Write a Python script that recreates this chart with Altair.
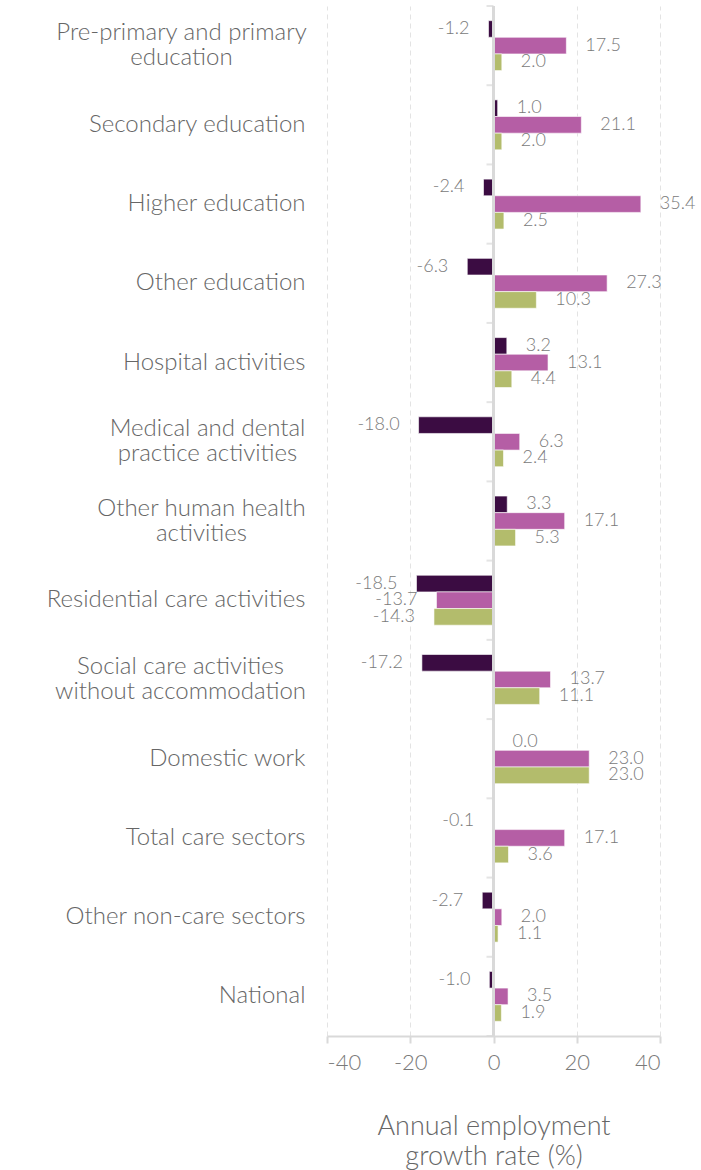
import altair as alt
import pandas as pd

# Sector names (each entry is a list of label lines)
sectors = [
    ["Pre-primary and primary", "education"],
    ["Secondary education"],
    ["Higher education"],
    ["Other education"],
    ["Hospital activities"],
    ["Medical and dental", "practice activities"],
    ["Other human health", "activities"],
    ["Residential care activities"],
    ["Social care activities", "without accommodation"],
    ["Domestic work"],
    ["Total care sectors"],
    ["Other non-care sectors"],
    ["National"],
]

series_names = ["Series 1", "Series 2", "Series 3"]
series_colors = ["#3b0c42", "#b55ea5", "#b3bc6c"]

# Annual employment growth rate (%) per sector, one list per series
series_1 = [-1.2, 1.0, -2.4, -6.3, 3.2, -18.0, 3.3, -18.5, -17.2, 0.0, -0.1, -2.7, -1.0]
series_2 = [17.5, 21.1, 35.4, 27.3, 13.1, 6.3, 17.1, -13.7, 13.7, 23.0, 17.1, 2.0, 3.5]
series_3 = [2.0, 2.0, 2.5, 10.3, 4.4, 2.4, 5.3, -14.3, 11.1, 23.0, 3.6, 1.1, 1.9]

x_ticks = [-40, -20, 0, 20, 40]

sector_keys = ["|".join(s) for s in sectors]
rows = []
for name, vals in zip(series_names, [series_1, series_2, series_3]):
    for key, v in zip(sector_keys, vals):
        rows.append({"sector": key, "series": name, "value": v, "label": f"{v:.1f}"})
df = pd.DataFrame(rows)

# band boundaries for the small ticks on the zero line
bounds = pd.DataFrame({"b": list(range(len(sectors) + 1))})

FONT = "Lato"
GRID = "#d9d9d9"
LINE_H = 25
LABEL_GAP = 22

# two-line labels are drawn as a centred block: half of the block's width (px)
block_half_width = {
    "Pre-primary and primary|education": 124,
    "Medical and dental|practice activities": 98,
    "Other human health|activities": 104,
    "Social care activities|without accommodation": 125,
}
pad_expr = str(LABEL_GAP)
for key, half in block_half_width.items():
    pad_expr = f"datum.value === '{key}' ? {LABEL_GAP + half} : ({pad_expr})"
is_wrapped = "indexof(datum.value, '|') >= 0"

y_enc = alt.Y(
    "sector:N",
    sort=sector_keys,
    scale=alt.Scale(paddingInner=0.37, paddingOuter=0.185),
    axis=alt.Axis(
        title=None,
        domain=False,
        ticks=False,
        labelExpr="split(datum.value, '|')",
        labelAlign={"expr": f"{is_wrapped} ? 'center' : 'right'"},
        labelPadding={"expr": pad_expr},
        # centre two-line labels vertically on their band
        labelOffset={"expr": f"{is_wrapped} ? {-LINE_H / 2} : 0"},
        labelFont=FONT,
        labelFontSize=24,
        labelFontWeight=300,
        labelColor="#666666",
        labelLineHeight=LINE_H,
        labelLimit=400,
    ),
)
y_off = alt.YOffset("series:N", sort=series_names, scale=alt.Scale(paddingInner=0))
x_enc = alt.X(
    "value:Q",
    scale=alt.Scale(domain=[-40, 40], nice=False, zero=False),
    axis=alt.Axis(
        values=x_ticks,
        labelExpr="'' + datum.value",
        title=["Annual employment", "growth rate (%)"],
        titleFont=FONT,
        titleFontSize=27,
        titleFontWeight=300,
        titleColor="#666666",
        titleLineHeight=30,
        titlePadding=40,
        labelFont=FONT,
        labelFontSize=22,
        labelFontWeight=300,
        labelColor="#7a7a7a",
        labelPadding=9,
        domainColor=GRID,
        domainWidth=2,
        tickColor=GRID,
        tickWidth=2,
        tickSize=7,
        grid=True,
        gridColor="#e3e3e3",
        gridDash=[5, 4],
        gridWidth=1,
    ),
)
color_enc = alt.Color(
    "series:N", sort=series_names,
    scale=alt.Scale(domain=series_names, range=series_colors), legend=None,
)

base = alt.Chart(df).encode(y=y_enc, yOffset=y_off)

bars = base.mark_bar(stroke="white", strokeWidth=0.6).encode(x=x_enc, color=color_enc)

label_style = dict(font=FONT, fontSize=18, fontWeight=300, color="#7a7a7a", baseline="middle")
pos_labels = base.transform_filter("datum.value >= 0").mark_text(
    align="left", dx=19, **label_style
).encode(x="value:Q", text="label:N")
neg_labels = base.transform_filter("datum.value < 0").mark_text(
    align="right", dx=-19, **label_style
).encode(x="value:Q", text="label:N")

zero_line = alt.Chart(df).mark_rule(color=GRID, strokeWidth=2.5).encode(x=alt.datum(0))

ticks = alt.Chart(bounds).mark_tick(
    orient="horizontal", color=GRID, thickness=2, size=7, xOffset=-3.5
).encode(
    x=alt.datum(0),
    y=alt.Y("b:Q", scale=alt.Scale(domain=[0, len(sectors)], reverse=True, nice=False), axis=None),
)

main = alt.layer(bars, pos_labels, neg_labels, zero_line)
chart = (
    alt.layer(main, ticks)
    .resolve_scale(y="independent")
    .properties(
        width=333,
        height=1030,
        autosize=alt.AutoSizeParams(type="none"),
        padding={"left": 327, "top": 6, "right": 41, "bottom": 134},
    )
    .configure_view(stroke=None)
)

chart.save("out.html", embed_options={"renderer": "svg", "actions": False})
